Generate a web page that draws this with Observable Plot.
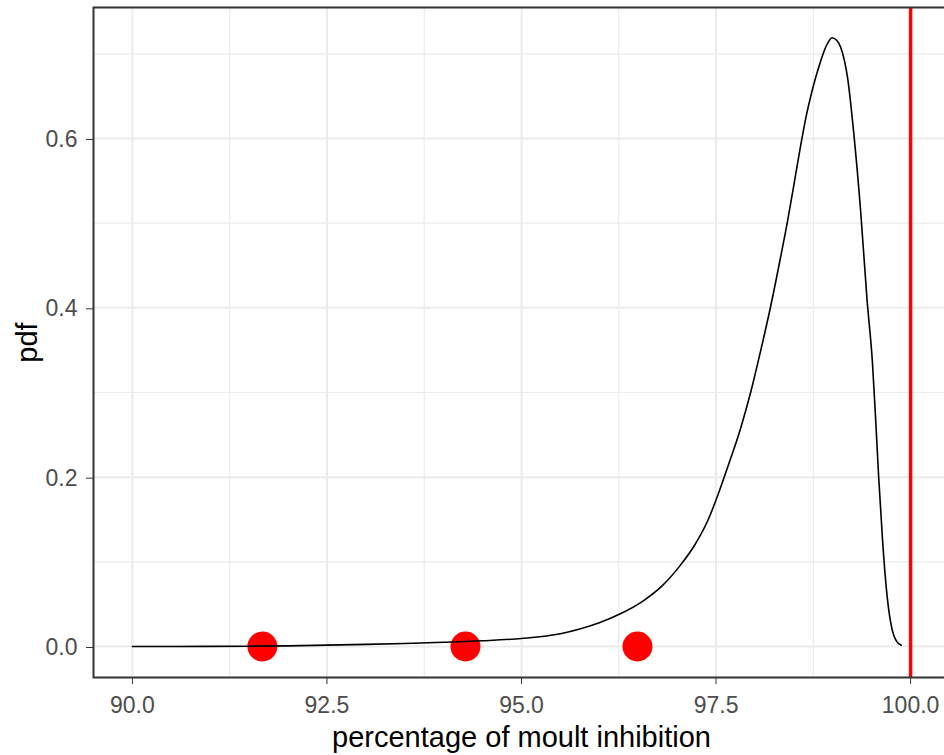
<!DOCTYPE html>
<html>
<head>
<meta charset="utf-8">
<script src="https://cdn.jsdelivr.net/npm/d3@7"></script>
<script src="https://cdn.jsdelivr.net/npm/@observablehq/plot@0.6"></script>
<style>
  html, body { margin: 0; padding: 0; background: #fff; overflow: hidden; }
  #chart { width: 944px; height: 755px; overflow: hidden; }
  #chart svg { max-width: none; }
</style>
</head>
<body>
<div id="chart"></div>
<script>
// ---- data ----
const curveX = [90.0, 91.0, 92.0, 93.0, 93.5, 94.0, 94.5, 95.0, 95.5, 95.76, 96.0, 96.27, 96.57, 96.8, 97.05, 97.22, 97.4, 97.52, 97.65, 97.82, 97.95, 98.07, 98.2, 98.33, 98.42, 98.5, 98.59, 98.66, 98.72, 98.78, 98.84, 98.9, 98.95, 98.99, 99.05, 99.1, 99.15, 99.19, 99.27, 99.36, 99.44, 99.51, 99.55, 99.59, 99.64, 99.70, 99.765, 99.82, 99.88];
const curveY = [0.0000, 0.0002, 0.0008, 0.0025, 0.0035, 0.0050, 0.0068, 0.0095, 0.0150, 0.0209, 0.0280, 0.0386, 0.0543, 0.0710, 0.0970, 0.1190, 0.1500, 0.1780, 0.2120, 0.2590, 0.3020, 0.3480, 0.4010, 0.4600, 0.5030, 0.5450, 0.5930, 0.6270, 0.6510, 0.6720, 0.6900, 0.7060, 0.7150, 0.7190, 0.7160, 0.7080, 0.6920, 0.6720, 0.6060, 0.5120, 0.4100, 0.3350, 0.2700, 0.2000, 0.1250, 0.0580, 0.0190, 0.0060, 0.0015];
const pointX = [91.67, 94.28, 96.49];
const pointY = [0, 0, 0];
const vlineX = [100];
const xTicks = [90, 92.5, 95, 97.5, 100];
const xMinor = [91.25, 93.75, 96.25, 98.75];
const yTicks = [0, 0.2, 0.4, 0.6];
const yMinor = [0.1, 0.3, 0.5, 0.7];
const xTitle = ["percentage of moult inhibition"];
const yTitle = ["pdf"];
const xDomain = [89.5, 100.5];
const yDomain = [-0.0366, 0.7547];

const curve = curveX.map((x, i) => ({x, y: curveY[i]}));
const points = pointX.map((x, i) => ({x, y: pointY[i]}));

const font = "'Liberation Sans', Arial, sans-serif";
const fmt = d3.format(".1f");

const chart = Plot.plot({
  width: 944,
  height: 755,
  marginLeft: 93,
  marginTop: 7,
  marginBottom: 78,
  marginRight: -5,
  style: {fontFamily: font, background: "#fff", overflow: "hidden"},
  x: {domain: xDomain},
  y: {domain: yDomain},
  marks: [
    Plot.gridX(xMinor, {stroke: "#EBEBEB", strokeOpacity: 1, strokeWidth: 1.2}),
    Plot.gridY(yMinor, {stroke: "#EBEBEB", strokeOpacity: 1, strokeWidth: 1.2}),
    Plot.gridX(xTicks, {stroke: "#EBEBEB", strokeOpacity: 1, strokeWidth: 2}),
    Plot.gridY(yTicks, {stroke: "#EBEBEB", strokeOpacity: 1, strokeWidth: 2}),
    Plot.dot(points, {x: "x", y: "y", r: 15, fill: "#FF0000", stroke: null}),
    Plot.line(curve, {x: "x", y: "y", stroke: "#000", strokeWidth: 1.6, curve: "monotone-x"}),
    Plot.ruleX(vlineX, {stroke: "#FF0000", strokeWidth: 3.5}),
    Plot.frame({stroke: "#333333", strokeWidth: 2}),
    Plot.axisX(xTicks, {tickSize: 7, tickPadding: 12, tickFormat: fmt, fontSize: 23, stroke: "#333333", fill: "#4D4D4D", label: null}),
    Plot.axisY(yTicks, {tickSize: 7, tickPadding: 9, tickFormat: fmt, fontSize: 23, dy: 1, stroke: "#333333", fill: "#4D4D4D", label: null}),
    Plot.text(xTitle, {frameAnchor: "bottom", lineAnchor: "middle", textAnchor: "middle", dy: 60, fontSize: 29, fill: "#000"}),
    Plot.text(yTitle, {frameAnchor: "left", lineAnchor: "middle", textAnchor: "middle", dx: -66, rotate: -90, fontSize: 29, fill: "#000"})
  ]
});
document.getElementById("chart").appendChild(chart);
</script>
</body>
</html>
